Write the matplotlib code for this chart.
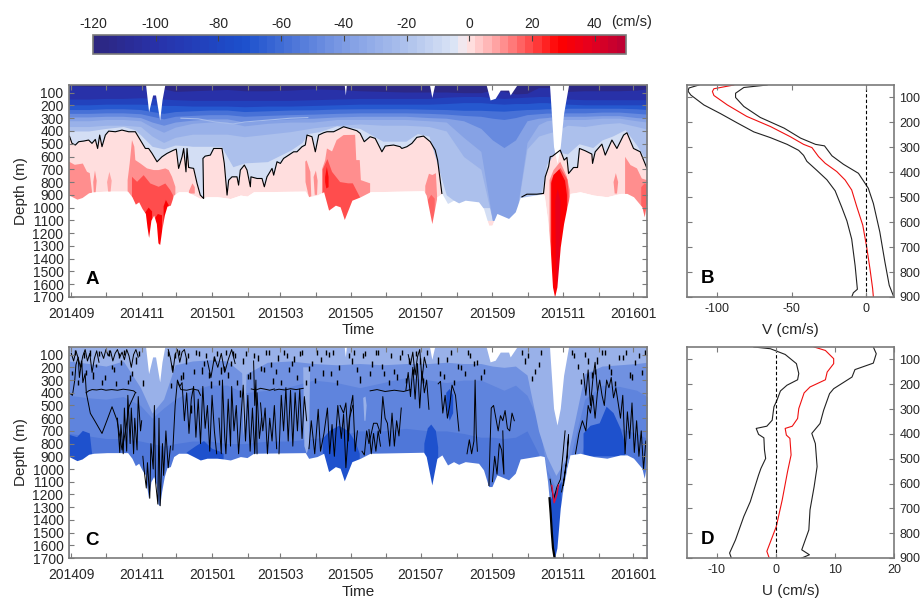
# Depth-time sections of V and U with mean profiles

import matplotlib
matplotlib.use('Agg')
import matplotlib.pyplot as plt
from matplotlib.cm import ScalarMappable
from matplotlib.colors import BoundaryNorm, LinearSegmentedColormap

plt.rcParams['font.family'] = ['Liberation Sans', 'DejaVu Sans']
plt.rcParams['axes.unicode_minus'] = False

W, H = 921, 603

# colour scale (cm/s)
cmap_values = [-120, -100, -72, -40, -20, -3, 0, 10, 20, 30, 40, 50]
cmap_colors = [(45, 38, 128), (40, 50, 170), (28, 80, 205), (125, 155, 228), (172, 192, 236), (222, 230, 246),
               (255, 232, 232), (255, 160, 160), (255, 80, 80), (255, 0, 0), (230, 0, 30), (190, 0, 50)]
cbar_ticks = [-120, -100, -80, -60, -40, -20, 0, 20, 40]

# time ticks, days since 2014-09-01
month_days = [0, 30, 61, 91, 122, 153, 181, 212, 242, 273, 303, 334, 365, 396, 426, 457, 487]
month_labels = ['201409', '', '201411', '', '201501', '', '201503', '', '201505', '', '201507', '', '201509', '',
                '201511', '', '201601']
depth_ticks = list(range(100, 1800, 100))
profile_ticks = list(range(100, 1000, 100))

# lower edge of the sections
bottom_t = [-2, 4.9, 9.3, 15, 19.4, 31, 48.8, 52.6, 55.5, 58.4, 61.3, 64.2, 65.6, 67, 69, 71.4, 73.7, 75.1, 76.6, 78.3,
            80.6, 82.9, 85.8, 88.7, 93, 100.3, 106, 111.8, 117.6, 126.3, 132, 137.8, 146.5, 152.3, 158, 202.8, 205.7,
            213, 218.7, 223, 228.9, 233, 236.6, 243.2, 250.4, 259, 305.3, 307.6, 312.5, 316.9, 321.2, 326.1, 331.3,
            335.7, 341.4, 353, 357.3, 361.7, 364.6, 368.9, 379, 384.8, 389.1, 406.4, 409.9, 412.8, 415, 417.1, 418.9,
            420.9, 423.8, 426.7, 429.6, 432.4, 441, 452.7, 464.2, 475.8, 481.6, 487.3, 494.6, 496.6, 499]
bottom_d = [902, 934, 921, 884, 876, 871, 871, 916, 973, 955, 1007, 1046, 1151, 1234, 1099, 1059, 1125, 1276, 1289, 1177,
            1059, 989, 981, 902, 876, 876, 902, 929, 915, 915, 921, 929, 902, 910, 876, 871, 916,
            902, 876, 1020, 981, 994, 1093, 942, 916, 876, 868, 902, 1125, 916, 889, 968, 942,
            963, 942, 955, 1007, 1138, 1138, 1046, 1085, 1033, 921, 895, 902, 1098, 1308, 1621, 1700,
            1621, 1308, 1125, 994, 889, 876, 902, 915, 889, 889, 915, 994, 1072, 942]

# white gaps at the top of the sections
gap_t = [64.4, 67, 70.5, 73, 76.6, 78.6, 81, 82, 236.6, 237.5, 238.4, 239, 310.5, 312.5, 314.9, 315, 359.6, 363, 367.4,
         371.8, 379, 380.4, 386.2, 387, 414.5, 418, 421, 423.8, 426.7, 431]
gap_d = [40, 249, 118, 118, 314, 157, 40, 40, 40, 118, 40, 40, 40, 137, 40, 40, 40, 157, 144, 80, 80, 118, 40, 40,
         40, 523, 654, 523, 262, 40]

# zero contour of V, two pieces
zero1_t = [-2, -1.4, 0.6, 3.5, 6.4, 10.7, 15, 17.9, 20.8, 22.8, 24.6, 26.6, 29.5, 32.4, 38.2, 43.9, 49.7, 55.5, 59.8,
           64.2, 67, 70, 74.3, 78.6, 82.9, 88.7, 91, 93, 96, 97.4, 99.4, 100.3, 101.7, 106, 109, 111.8, 114.7, 114.1,
           116, 120.5, 123.4, 130.6, 132.6, 135, 136.4, 139.3, 143.6, 145, 146.5, 150, 152.3, 155.2, 155.7, 161,
           165.3, 167.3, 169.6, 174, 175.4, 178.3, 181.2, 184, 188.4, 192.7, 195.6, 200, 202.8, 204.3, 208.6, 211.5,
           214.4, 218.7, 221.6, 227.4, 233.2, 236, 241.8, 247.5, 250.4, 253.9, 259, 263.4, 267.8, 269.2, 272.1,
           279.3, 285, 286.5, 290.9, 295.2, 299.5, 305.3, 311.1, 315.4, 317.5, 321.2]
zero1_d = [440, 445, 497, 510, 484, 479, 471, 497, 466, 537, 432, 523, 432, 401, 406, 393, 406, 406, 471,
           537, 537, 576, 641, 602, 576, 550, 542, 693, 602, 537, 720, 537, 686, 693, 811, 902, 929, 615,
           597, 589, 537, 537, 654, 902, 785, 759, 759, 824, 706, 667, 706, 837, 759, 772,
           772, 837, 759, 693, 746, 641, 654, 615, 589, 563, 563, 523, 510, 432, 445, 563,
           432, 414, 406, 406, 380, 367, 382, 398, 419, 484, 445, 458, 537, 563, 518,
           510, 523, 537, 523, 497, 450, 440, 484, 550, 628, 889]
zero2_t = [390.6, 394.9, 403.5, 409.3, 410.8, 413.7, 415.1, 417.1, 423.8, 427.2, 429.6, 431, 435.3, 438.8, 440.5, 445.4,
           451.2, 451.8, 454.1, 459.9, 462.8, 468.6, 472.9, 478.7, 481.6, 487.3, 493.1, 499]
zero2_d = [916, 895, 895, 889, 759, 680, 602, 597, 550, 628, 607, 733, 686, 686, 537, 555,
           581, 654, 563, 503, 589, 471, 537, 432, 414, 537, 563, 693]
# between the two pieces the whole column is westward
zero_gap_t = [323, 388]
zero_gap_d = [1100, 1100]

# isotachs of V, depth of each level at these times
iso_t = [-2, 15, 30, 45, 60, 70, 80, 90, 105, 120, 135, 150, 170, 190, 210, 230, 250, 270, 290, 310, 325, 340, 355, 365,
         375, 385, 395, 405, 412, 420, 430, 445, 460, 475, 490, 499]
iso_light_t = [-2, 15, 30, 45, 55, 60, 70, 80, 90, 100, 105, 120, 130, 140, 150, 170, 190, 200, 205, 215, 230, 250, 270,
               290, 300, 310, 325, 340, 405, 412, 420, 430, 440, 452, 460, 469, 480, 490, 499]
iso_light_d = [400, 400, 380, 365, 390, 430, 520, 540, 510, 515, 520, 520, 520, 680, 650, 640, 550, 490, 420, 405, 360,
               380, 480, 480, 420, 440, 900, 1000, 1000, 660, 560, 580, 500, 530, 470, 440, 390, 510, 640]
iso_m20 = [365, 365, 355, 355, 365, 440, 490, 450, 425, 425, 425, 445, 425, 405, 375, 355, 345, 355, 355, 365, 400, 600,
           700, 1100, 1100, 1100, 540, 440, 420, 400, 355, 365, 345, 335, 365, 385]
iso_m30 = [320, 320, 310, 310, 320, 370, 410, 370, 340, 330, 330, 360, 340, 330, 330, 310, 310, 310, 310, 320, 330, 450,
           560, 1100, 1100, 1100, 490, 350, 320, 310, 310, 310, 300, 300, 320, 330]
iso_m40 = [290, 290, 285, 285, 295, 330, 355, 330, 315, 305, 305, 330, 315, 305, 300, 290, 285, 285, 285, 295, 300, 320,
           380, 470, 530, 470, 320, 300, 295, 285, 285, 285, 280, 280, 295, 300]
iso_m50 = [262, 262, 258, 258, 265, 285, 305, 285, 278, 272, 272, 285, 278, 272, 268, 262, 258, 258, 258, 262, 268, 278,
           285, 300, 310, 295, 272, 265, 260, 260, 258, 258, 252, 252, 262, 268]
iso_m60 = [232, 232, 226, 226, 232, 248, 262, 248, 242, 236, 236, 248, 242, 236, 234, 228, 226, 226, 226, 230, 232, 238,
           238, 242, 245, 238, 232, 230, 226, 226, 222, 222, 222, 222, 226, 232]
iso_m85 = [195, 195, 190, 190, 190, 195, 200, 200, 205, 205, 205, 210, 205, 205, 200, 195, 190, 190, 190, 190, 185, 178,
           178, 185, 190, 185, 185, 178, 178, 185, 190, 195, 195, 195, 195, 195]
iso_m100 = [150, 150, 145, 145, 140, 145, 150, 155, 160, 160, 160, 160, 160, 160, 155, 150, 145, 145, 145, 145, 135, 130,
            130, 140, 145, 140, 135, 130, 130, 135, 150, 155, 155, 155, 155, 155]
iso_m118 = [45, 50, 50, 50, 50, 60, 70, 90, 85, 80, 75, 85, 85, 80, 70, 75, 85, 90, 95, 95, 95, 100, 100, 80, 90, 110,
            105, 60, 60, 60, 90, 85, 85, 85, 80, 70]
streak_t = [95, 110, 125, 140, 150, 170, 190, 205]
streak_d = [300, 305, 330, 345, 330, 315, 300, 295]

# eastward patches of V: (value, times, depths)
red_patches = [
    (12, [-2, 3, 10, 13.6, 16, 18, 18, -2], [640, 665, 655, 720, 730, 880, 1000, 1000]),
    (12, [19, 20.5, 22, 21, 19.5], [800, 710, 790, 890, 890]),
    (10, [31, 33, 35, 34, 32], [800, 720, 790, 880, 880]),
    (12, [102, 105, 107, 107, 102], [870, 810, 840, 890, 890]),
    (12, [48.8, 50.6, 52.6, 54.6, 55.5, 59.8, 65.6, 71.4, 75.7, 81.5, 84.4, 87.3, 90.2, 90.2, 48.8],
     [785, 654, 471, 523, 628, 654, 693, 706, 706, 693, 706, 759, 837, 1400, 1400]),
    (20, [52.6, 57, 62.7, 68.5, 75.7, 81.5, 85.8, 88.1, 88.1, 52.6],
     [759, 798, 746, 811, 837, 811, 863, 902, 1400, 1400]),
    (30, [64, 67, 70, 70, 64], [1040, 1000, 1030, 1400, 1400]),
    (30, [72.8, 75, 78.6, 78.6, 72.8], [1080, 1050, 1060, 1400, 1400]),
    (30, [80, 82, 84.4, 84.4, 80], [990, 940, 980, 1400, 1400]),
    (12, [202.8, 204, 207.2, 208, 206, 203], [640, 630, 720, 910, 920, 800]),
    (12, [210, 212, 213.5, 213, 211], [760, 710, 790, 900, 900]),
    (12, [217.3, 220, 221.6, 226, 230, 236, 246, 247, 250, 251, 259, 259, 217.3],
     [700, 630, 537, 560, 471, 432, 430, 628, 628, 785, 810, 1100, 1100]),
    (20, [218, 222, 226, 233, 240, 244, 248, 252, 252, 218],
     [700, 620, 720, 800, 810, 810, 880, 950, 1200, 1200]),
    (28, [220, 221.5, 223, 223, 221, 220], [760, 680, 760, 840, 850, 800]),
    (12, [306.8, 310, 313, 316, 317, 317, 306.8], [830, 735, 745, 730, 900, 1200, 1200]),
    (18, [309, 312, 315, 315, 309], [940, 900, 930, 1200, 1200]),
    (12, [414.5, 418, 423.8, 429.6, 432, 432, 414.5], [785, 706, 641, 759, 863, 1700, 1700]),
    (20, [415.5, 418, 424, 430, 431, 431, 415.5], [800, 745, 690, 780, 880, 1700, 1700]),
    (30, [416, 418, 423, 428, 429.6, 429.6, 416], [810, 745, 700, 790, 900, 1700, 1700]),
    (38, [419.5, 421.5, 424, 423, 421, 420], [950, 850, 950, 1500, 1650, 1400]),
    (12, [470, 472, 474, 473, 471], [800, 730, 800, 890, 890]),
    (12, [480, 484.7, 490.3, 494.5, 499, 499, 480], [602, 667, 693, 772, 785, 1100, 1100]),
    (18, [494, 497, 499, 499, 494], [840, 810, 820, 1100, 1100]),
]

# U section fills, values in cm/s
u_top_light = [150, 170, 190, 150, 360, 560, 450, 180, 150, 140, 150, 260, 160, 150, 170, 180, 170, 180, 170, 170, 160,
               170, 170, 190, 200, 190, 260, 700, 900, 1050, 900, 250, 190, 180, 170, 160]
u_deep_top = [420, 440, 450, 430, 500, 600, 520, 450, 380, 340, 340, 400, 380, 350, 300, 320, 360, 320, 280, 300, 320,
              300, 300, 340, 380, 340, 420, 620, 1000, 1150, 1000, 450, 340, 350, 380, 430]
u_strong_top = [720, 740, 760, 760, 780, 800, 820, 800, 780, 780, 800, 800, 780, 780, 760, 740, 700, 700, 680, 700, 700,
                720, 750, 750, 760, 750, 700, 880, 1250, 1300, 1200, 800, 700, 680, 720, 760]
u_light_columns = [
    ([148, 150, 152, 151, 149], [200, 200, 200, 600, 740]),
    ([201, 204, 207, 206, 204, 202], [200, 200, 200, 820, 880, 820]),
    ([253, 255, 256, 255, 254], [440, 430, 500, 620, 620]),
]
u_strong_patches = [
    ([-2, 5, 10, 16, 18, 18, -2], [730, 750, 700, 720, 880, 1000, 1000]),
    ([100, 108, 115, 122, 128, 132, 132, 100], [870, 820, 780, 840, 860, 880, 1000, 1000]),
    ([218, 224, 232, 240, 246, 250, 250, 218], [760, 700, 660, 700, 780, 880, 1100, 1100]),
    ([306, 309, 312, 316, 318, 318, 306], [800, 680, 650, 700, 830, 1200, 1200]),
    ([325, 328, 331, 331, 328, 325], [400, 370, 420, 560, 620, 520]),
    ([444, 450, 458, 464, 470, 476, 480, 480, 444], [720, 660, 640, 510, 560, 680, 800, 900, 900]),
    ([415, 425, 425, 415], [1250, 1100, 1700, 1700]),
]

# contour squiggles of U
u_contours = [
    ([-2, 1, 3, 4, 6, 7, 9, 10, 12, 13], [400, 420, 300, 180, 120, 280, 150, 320, 250, 400]),
    ([13, 15, 18, 22, 26, 30, 35, 40, 45, 50, 54, 56], [400, 385, 375, 378, 372, 380, 375, 380, 372, 378, 385, 400]),
    ([13, 16.5, 20.8, 26.6, 31, 35.3, 39.6, 44, 47, 50, 55.5],
     [400, 562, 628, 720, 615, 510, 615, 850, 700, 510, 400]),
    ([40, 42, 43, 45, 46, 48, 49, 51, 52, 54, 55, 57, 58, 60, 61],
     [600, 870, 650, 880, 520, 860, 420, 800, 520, 880, 600, 850, 430, 700, 620]),
    ([62, 63, 65, 66, 68, 69, 71, 72, 73, 75, 76, 77, 79, 80, 82, 84, 86],
     [900, 1000, 1150, 950, 1230, 800, 1000, 500, 1100, 1276, 600, 1289, 800, 1050, 700, 990, 820]),
    ([88, 90, 92, 94, 96, 98, 100, 102, 104, 106, 108, 110, 112, 114, 116, 118, 120, 122, 124, 126],
     [850, 500, 300, 350, 320, 620, 400, 720, 450, 350, 750, 450, 800, 350, 680, 500, 860, 420, 700, 880]),
    ([92, 95, 100, 105, 110, 112], [310, 375, 380, 370, 380, 420]),
    ([128, 130, 131, 133, 134, 136, 138, 139, 141, 143, 145, 147, 149, 151, 153, 155, 157, 159, 161, 163, 165],
     [600, 880, 300, 750, 880, 450, 820, 350, 700, 500, 880, 600, 340, 780, 420, 860, 520, 880, 400, 760, 600]),
    ([156, 160, 164, 168, 172, 176], [370, 378, 365, 372, 380, 370]),
    ([158, 159, 160, 161], [150, 500, 300, 880]),
    ([176, 180, 185, 190, 195, 201], [380, 372, 378, 368, 375, 365]),
    ([180, 182, 184, 186, 188, 190, 192, 194, 196, 198, 200, 202, 204],
     [880, 420, 700, 360, 780, 380, 820, 400, 700, 370, 760, 430, 620]),
    ([206, 208, 211, 214, 216, 219, 222, 224, 226, 228, 231, 234, 236, 238, 241, 244],
     [840, 620, 880, 530, 860, 720, 520, 880, 650, 900, 500, 760, 570, 990, 600, 500]),
    ([233, 236, 238, 240, 242, 244, 246, 248], [500, 560, 480, 780, 520, 420, 860, 700]),
    ([252, 254, 256, 258, 260, 262, 265, 268, 270, 272, 274, 276, 278, 280, 282, 284, 286],
     [860, 890, 700, 800, 720, 640, 640, 720, 430, 600, 640, 820, 560, 820, 620, 740, 520]),
    ([259, 265, 272, 280, 288, 294], [385, 375, 390, 380, 390, 375]),
    ([290, 292, 294, 296, 298, 300, 302, 304, 306, 308, 310],
     [380, 240, 430, 200, 450, 170, 520, 230, 400, 300, 530]),
    ([318, 320, 322, 324, 326, 328, 330, 333, 336], [330, 310, 560, 420, 600, 500, 340, 420, 700]),
    ([343, 345, 347, 349, 350, 351, 352], [880, 770, 880, 780, 300, 720, 860]),
    ([362, 363, 364, 366, 368, 370, 372, 374, 376, 378, 380, 382, 384],
     [1130, 800, 520, 500, 600, 700, 580, 620, 540, 680, 700, 560, 620]),
    ([365, 367, 369, 371, 373, 375, 374], [1100, 900, 1040, 800, 850, 1040, 700]),
    ([437, 440, 443, 446, 448, 450, 452, 454, 456, 458, 460, 462, 464, 466, 468, 470, 472, 474, 476, 478, 480, 482, 484,
      486, 488, 490, 492, 494, 496, 498],
     [880, 720, 620, 700, 500, 560, 420, 600, 400, 300, 420, 500, 300, 360, 280, 440, 360, 480, 600, 420, 880, 550, 760,
      480, 870, 620, 900, 700, 1000, 780]),
    ([425, 427, 429, 431, 430, 428, 426.5], [1180, 1080, 950, 730, 900, 1030, 1130]),
    ([415, 418, 421, 424, 426, 428], [1080, 1240, 1140, 1080, 900, 700]),
    ([0, 2, 4, 6, 8, 10, 12, 14, 16, 18, 20, 22, 24], [90, 150, 70, 130, 200, 110, 60, 150, 90, 240, 130, 70, 160]),
    ([26, 28, 30, 32, 34, 36, 38, 40, 42, 44, 46, 48, 50, 52, 54, 56, 58],
     [80, 130, 60, 110, 70, 150, 90, 60, 120, 80, 140, 60, 110, 200, 100, 60, 120]),
    ([84, 86, 88, 90, 92, 94, 96, 98, 100], [60, 130, 240, 100, 60, 160, 80, 60, 140]),
    ([118, 121, 124, 127, 130, 133, 136, 139, 142], [150, 280, 120, 200, 90, 240, 140, 60, 170]),
    ([164, 166, 168, 170, 172, 174, 176, 178], [480, 700, 520, 880, 600, 780, 500, 840]),
    ([292, 294, 296, 298, 300, 302, 304, 306, 308], [100, 180, 80, 260, 120, 60, 300, 120, 200]),
    ([258, 260, 262, 264, 266, 268], [690, 880, 720, 860, 700, 820]),
    ([444, 446, 448, 450, 452, 454, 456], [250, 420, 220, 500, 300, 160, 380]),
]
u_edge_t = [414.5, 415.5, 416.5, 417.5, 418.9]
u_edge_d = [1230, 1350, 1500, 1620, 1700]
u_red_t = [416.5, 418.5, 420.9, 422.3]
u_red_d = [1130, 1265, 1200, 1125]

# short closed contours near the surface: time, top, bottom
dash_t = [3, 8, 11, 16, 19, 24, 27, 33, 37, 41, 46, 51, 56, 59, 62, 84, 87, 90, 93, 97, 101, 104, 108, 113, 117, 121,
          126, 130, 134, 138, 142, 146, 151, 155, 162, 167, 171, 175, 179, 184, 189, 193, 198, 203, 209, 213, 218, 223,
          227, 232, 241, 245, 250, 255, 261, 266, 271, 277, 282, 287, 293, 299, 305, 318, 323, 329, 335, 341, 346, 352,
          358, 391, 396, 402, 407, 434, 439, 445, 451, 456, 463, 468, 475, 481, 486, 492, 497,
          1, 6, 13, 21, 29, 35, 39, 43, 49, 53, 86, 95, 99, 106, 111, 115, 119, 124, 128, 132, 136, 140, 144, 149, 153,
          158, 164, 169, 173, 177, 182, 187, 191, 196, 200, 206, 211, 216, 221, 225, 230, 243, 248, 253, 259, 264, 269,
          275, 280, 285, 290, 296, 302, 308, 320, 326, 332, 338, 344, 349, 355, 393, 399, 405, 436, 442, 448, 454, 460,
          466, 471, 478, 484, 489, 495]
dash_top = [60, 150, 80, 60, 240, 70, 300, 60, 200, 90, 60, 260, 120, 70, 300, 70, 180, 90, 60, 240, 90, 500, 60, 200,
            90, 310, 70, 200, 60, 150, 90, 380, 70, 240, 100, 200, 60, 280, 100, 60, 200, 110, 70, 300, 150, 60, 220, 80,
            60, 180, 90, 60, 270, 70, 150, 60, 230, 90, 250, 60, 130, 70, 280, 120, 250, 60, 170, 230, 90, 140, 210, 60,
            90, 210, 60, 60, 170, 80, 240, 120, 60, 210, 100, 60, 250, 90, 60,
            230, 300, 220, 170, 260, 180, 310, 140, 300, 230, 320, 260, 130, 210, 70, 150, 240, 110, 300, 190, 240, 70,
            300, 130, 250, 90, 190, 60, 160, 210, 300, 90, 150, 260, 60, 190, 280, 120, 60, 230, 300, 130, 200, 90, 230,
            60, 170, 300, 210, 100, 280, 210, 130, 60, 230, 120, 300, 180, 60, 150, 260, 130, 270, 160, 90, 290, 130,
            210, 60, 170, 310, 100, 240, 140, 220]
dash_bot = [100, 190, 130, 110, 290, 110, 340, 110, 240, 130, 100, 310, 170, 110, 350, 110, 220, 130, 100, 290, 130, 560,
            100, 250, 130, 360, 110, 250, 100, 190, 130, 430, 110, 290, 150, 240, 100, 330, 150, 100, 240, 160, 110, 340,
            190, 100, 270, 120, 100, 220, 130, 100, 320, 110, 200, 100, 270, 130, 300, 100, 170, 110, 320, 170, 290, 100,
            210, 270, 130, 180, 250, 100, 130, 250, 100, 100, 210, 120, 280, 170, 100, 260, 140, 100, 300, 130, 100,
            260, 340, 260, 200, 300, 210, 350, 180, 330, 270, 360, 300, 170, 250, 110, 190, 280, 150, 340, 230, 280, 110,
            340, 170, 290, 130, 230, 100, 200, 250, 340, 130, 190, 300, 100, 230, 320, 160, 100, 270, 340, 170, 240, 130,
            270, 100, 210, 340, 250, 140, 320, 250, 170, 100, 270, 160, 340, 220, 100, 190, 300, 170, 310, 200, 130, 330,
            170, 250, 100, 210, 350, 140, 280, 180, 260]

# mean profiles: depth (m) and speed (cm/s)
v_low_d = [50, 62, 75, 90, 130, 165, 202, 238, 261, 288, 312, 332, 356, 393, 430, 474, 541, 595, 668, 775, 869, 883, 900]
v_low = [-112, -118.7, -119.3, -117.5, -108.7, -97.5, -86.4, -75.3, -64.2, -53, -45.3, -42, -39.8, -33, -26.4, -20.9,
         -16.4, -13, -9.8, -7.5, -6, -8.7, -9.8]
v_mean_d = [50, 65, 76, 92, 130, 176, 217, 257, 288, 301, 337, 364, 397, 431, 471, 538, 612, 699, 786, 866, 900]
v_mean = [-88.7, -102, -103, -102, -93, -80, -64, -51, -42, -36.4, -32, -27.5, -19.8, -14.2, -9.8, -6.4, -2.4, 0.2, 2.4,
          4.2, 4.7]
v_high_d = [50, 60, 83, 100, 136, 180, 223, 263, 288, 294, 334, 368, 404, 464, 525, 639, 759, 853, 900]
v_high = [-66.4, -82, -87.5, -87.5, -82, -71, -55, -44, -34, -28, -23, -15.3, -5.3, 1.3, 4.7, 9, 12.4, 15.3, 18.4]

u_low_d = [50, 57, 80, 117, 157, 182, 204, 227, 265, 291, 345, 369, 378, 402, 416, 465, 499, 539, 566, 673, 733, 827, 880,
           900]
u_low = [-3.7, -0.9, 1.6, 3.5, 3.9, 3.7, 1.9, 0.8, 0.2, -0.3, -0.6, -1.5, -3.3, -2.9, -2, -1.9, -1.7, -2.5, -2.9, -4.3,
         -5.4, -6.8, -7.8, -7.5]
u_mean_d = [50, 64, 97, 117, 151, 182, 211, 235, 298, 338, 369, 378, 405, 418, 485, 552, 666, 773, 873, 900]
u_mean = [6.5, 8.4, 9.8, 9.8, 8.7, 8.4, 5.8, 4.8, 3.9, 3.7, 2.8, 1.6, 1.8, 2.4, 2.6, 2, 1.1, 0.1, -1.5, -1.1]
u_high_d = [50, 77, 115, 141, 171, 218, 238, 305, 358, 398, 439, 532, 612, 706, 787, 867, 887, 900]
u_high = [16.5, 17, 16.5, 13.4, 12.9, 9.8, 9.1, 8.1, 7.5, 6.1, 6.7, 7, 6.5, 5.8, 5.6, 4.4, 5.7, 4.4]

TEXT = '#262626'
SPINE = '#7a7a7a'

cmap_points = [((v + 120) / 170, tuple(c / 255 for c in col)) for v, col in zip(cmap_values, cmap_colors)]
cmap = LinearSegmentedColormap.from_list('vel', cmap_points, N=64)
boundaries = [-120 + 170 * i / 64 for i in range(65)]
norm = BoundaryNorm(boundaries, 64)


def col(value):
    return cmap(norm(value))


def px_axes(fig, left, top, right, bottom):
    return fig.add_axes([left / W, 1 - bottom / H, (right - left) / W, (bottom - top) / H])


def style_axes(ax):
    for s in ax.spines.values():
        s.set_color(SPINE)
        s.set_linewidth(1.2)
        s.set_zorder(10)
    # keep ticks above the white masks
    ax.xaxis.set_zorder(9)
    ax.yaxis.set_zorder(9)
    ax.tick_params(direction='in', length=3.6, width=0.8, color=SPINE, labelcolor=TEXT, labelsize=10, pad=4,
                   top=True, right=True)


def style_section(ax, letter):
    ax.set_xlim(-2, 499)
    ax.set_ylim(1700, 40)
    ax.set_xticks(month_days)
    ax.set_xticklabels(month_labels)
    ax.set_yticks(depth_ticks)
    ax.set_xlabel('Time', fontsize=11, color=TEXT, labelpad=2)
    ax.set_ylabel('Depth (m)', fontsize=11, color=TEXT, labelpad=3)
    style_axes(ax)
    ax.tick_params(axis='x', pad=7)
    ax.text(18, 1561, letter, fontsize=13.5, fontweight='bold', color='black', ha='center', va='center', zorder=8)


def style_profile(ax, xlim, xticks, xlabel, letter):
    ax.set_xlim(*xlim)
    ax.set_ylim(900, 50)
    ax.set_xticks(xticks)
    ax.set_yticks(profile_ticks)
    ax.set_xlabel(xlabel, fontsize=11, color=TEXT, labelpad=6)
    style_axes(ax)
    ax.tick_params(labelleft=False, labelright=True, labelsize=9)
    ax.text(xlim[0] + (xlim[1] - xlim[0]) * 0.1, 825, letter, fontsize=13.5, fontweight='bold', color='black',
            ha='center', va='center')


def mask_section(ax):
    ax.fill_between(bottom_t, bottom_d, 1800, color='white', lw=0, zorder=5)
    ax.fill_between(gap_t, 0, gap_d, color='white', lw=0, zorder=5)


fig = plt.figure(figsize=(W / 100, H / 100), dpi=100)

# colour bar
cax = px_axes(fig, 93, 35, 626, 54)
cb = fig.colorbar(ScalarMappable(norm=norm, cmap=cmap), cax=cax, orientation='horizontal', ticks=cbar_ticks,
                  spacing='proportional', ticklocation='top')
cb.ax.minorticks_off()
cb.solids.set_edgecolor('face')
cb.ax.set_xticklabels([str(t) for t in cbar_ticks])
cb.ax.tick_params(direction='in', length=4, width=0.8, color='#444444', labelcolor=TEXT, labelsize=10, pad=3)
cb.outline.set_edgecolor(SPINE)
cb.outline.set_linewidth(1.2)
fig.text(631.5 / W, 1 - 22 / H, '(cm/s)', fontsize=10.5, color=TEXT, ha='center', va='center')

# A: V section
ax_a = px_axes(fig, 69, 85, 647, 297)
ax_a.fill_between(bottom_t, 0, bottom_d, color=col(2), lw=0, zorder=1)
for value, t, d in red_patches:
    ax_a.fill(t, d, color=col(value), lw=0, zorder=1.5)
zero_fill_t = zero1_t + zero_gap_t + zero2_t
zero_fill_d = zero1_d + zero_gap_d + zero2_d
ax_a.fill_between(zero_fill_t, 0, zero_fill_d, color=col(-6), lw=0, zorder=2)
ax_a.fill_between(iso_light_t, 0, iso_light_d, color=col(-20), lw=0, zorder=2.1)
iso_layers = [(-28, iso_m20), (-37, iso_m30), (-47, iso_m40), (-58, iso_m50), (-68, iso_m60), (-85, iso_m85),
              (-100, iso_m100), (-116, iso_m118)]
for i, (value, depth) in enumerate(iso_layers):
    ax_a.fill_between(iso_t, 0, depth, color=col(value), lw=0, zorder=2.2 + i * 0.1)
ax_a.plot(streak_t, streak_d, color=col(-22), lw=0.8, zorder=3.5)
mask_section(ax_a)
ax_a.plot(zero1_t, zero1_d, color='black', lw=0.8, zorder=6)
ax_a.plot(zero2_t, zero2_d, color='black', lw=0.8, zorder=6)
style_section(ax_a, 'A')

# C: U section
ax_c = px_axes(fig, 69, 347, 647, 558)
ax_c.fill_between(bottom_t, 0, bottom_d, color=col(-43), lw=0, zorder=1)
ax_c.fill_between(iso_t, u_deep_top, 1800, color=col(-49), lw=0, zorder=1.2)
ax_c.fill_between(iso_t, u_strong_top, 1800, color=col(-56), lw=0, zorder=1.3)
for t, d in u_strong_patches:
    ax_c.fill(t, d, color=col(-70), lw=0, zorder=1.4)
ax_c.fill_between(iso_t, 0, u_top_light, color=col(-28), lw=0, zorder=2)
for t, d in u_light_columns:
    ax_c.fill(t, d, color=col(-28), lw=0, zorder=2)
mask_section(ax_c)
for t, d in u_contours:
    ax_c.plot(t, d, color='black', lw=0.7, zorder=6)
ax_c.vlines(dash_t, dash_top, dash_bot, color='black', lw=1.0, zorder=6)
ax_c.plot(u_edge_t, u_edge_d, color='black', lw=1.6, zorder=6)
ax_c.plot(u_red_t, u_red_d, color='#e0103c', lw=1.0, zorder=7)
style_section(ax_c, 'C')

# B: V profile
ax_b = px_axes(fig, 687, 85, 894, 297)
ax_b.plot(v_low, v_low_d, color='#222222', lw=0.8)
ax_b.plot(v_high, v_high_d, color='#222222', lw=0.8)
ax_b.plot(v_mean, v_mean_d, color='#f01010', lw=0.8)
ax_b.axvline(0, color='black', lw=0.8, ls='--', dashes=(3, 2))
style_profile(ax_b, (-120, 18.5), [-100, -50, 0], 'V (cm/s)', 'B')

# D: U profile
ax_d = px_axes(fig, 687, 347, 894, 558)
ax_d.plot(u_low, u_low_d, color='#222222', lw=0.8)
ax_d.plot(u_high, u_high_d, color='#222222', lw=0.8)
ax_d.plot(u_mean, u_mean_d, color='#f01010', lw=0.8)
ax_d.axvline(0, color='black', lw=0.8, ls='--', dashes=(3, 2))
style_profile(ax_d, (-15, 20), [-10, 0, 10, 20], 'U (cm/s)', 'D')

fig.savefig('out.png', dpi=100)
